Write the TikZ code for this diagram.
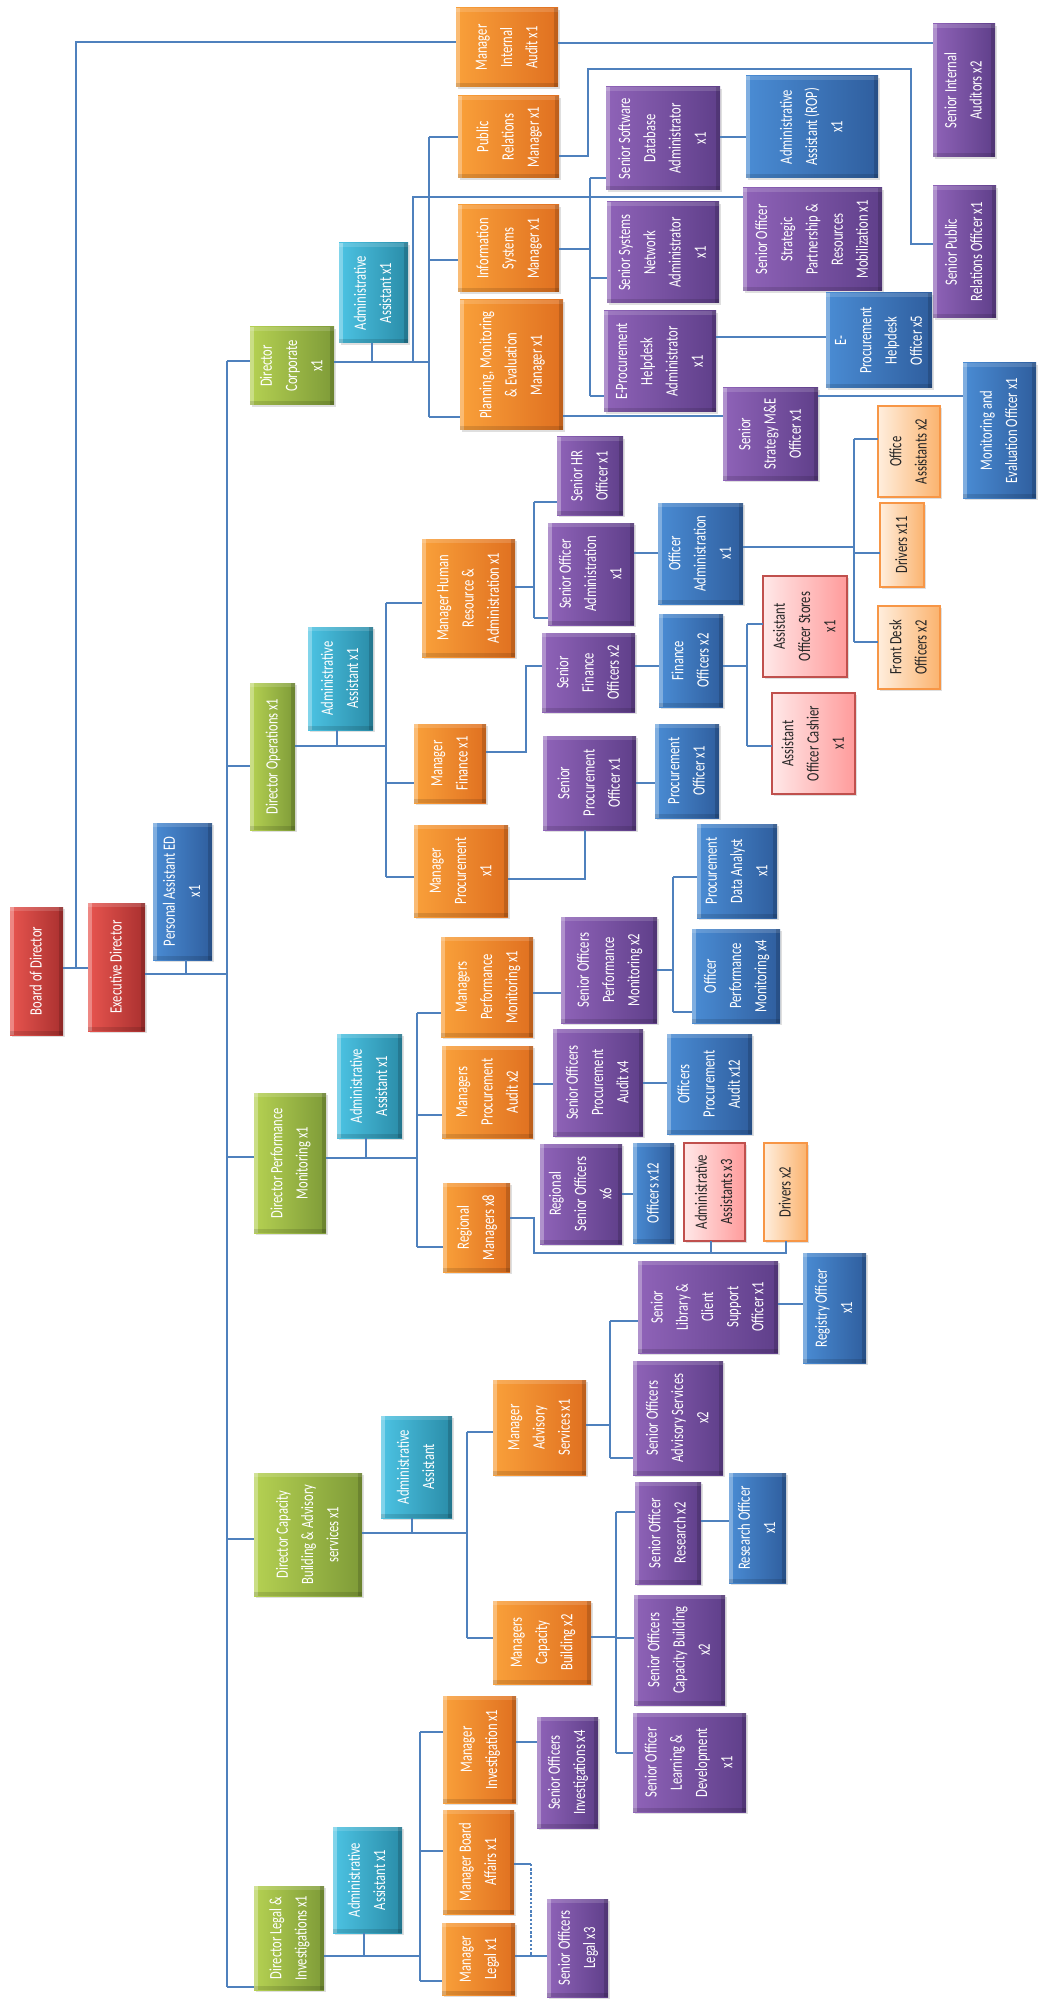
\documentclass[tikz,border=0pt]{standalone}
\usepackage{fontspec}
\setmainfont{Carlito}
\usepackage{graphicx}
\usetikzlibrary{shadows}
\definecolor{rL}{HTML}{E8554F}\definecolor{rR}{HTML}{A9302F}
\definecolor{gL}{HTML}{B5D152}\definecolor{gR}{HTML}{7E9B38}
\definecolor{cL}{HTML}{4CC3E3}\definecolor{cR}{HTML}{2A8CA8}
\definecolor{oL}{HTML}{F9A03A}\definecolor{oR}{HTML}{E07020}
\definecolor{uL}{HTML}{8F63B8}\definecolor{uR}{HTML}{5F3F8A}
\definecolor{bL}{HTML}{4A8CD4}\definecolor{bR}{HTML}{2F5E9E}
\definecolor{pL}{HTML}{FFE8E8}\definecolor{pR}{HTML}{FF9B9B}\definecolor{pB}{HTML}{C0504D}
\definecolor{lL}{HTML}{FFEEDD}\definecolor{lR}{HTML}{FBB36E}\definecolor{lB}{HTML}{F79646}
\definecolor{lnc}{HTML}{4F81BD}
\tikzset{
  basebox/.style={inner sep=0pt, outer sep=0pt, text=white,
    font=\fontsize{6.3}{9.2}\selectfont,
    drop shadow={opacity=0.25, shadow xshift=1pt, shadow yshift=-1pt}},
  bevel/.style={path picture={
    \fill[white, opacity=0.3] (path picture bounding box.north west) rectangle ([xshift=2.2pt]path picture bounding box.south west);
    \fill[white, opacity=0.15] (path picture bounding box.north west) rectangle ([yshift=-1.8pt]path picture bounding box.north east);
    \fill[black, opacity=0.15] (path picture bounding box.north east) rectangle ([xshift=-1.8pt]path picture bounding box.south east);
    \fill[black, opacity=0.12] (path picture bounding box.south west) rectangle ([yshift=1.8pt]path picture bounding box.south east);}},
  redbox/.style={basebox, bevel, left color=rL, right color=rR},
  greenbox/.style={basebox, bevel, left color=gL, right color=gR},
  cyanbox/.style={basebox, bevel, left color=cL, right color=cR},
  orangebox/.style={basebox, bevel, left color=oL, right color=oR},
  purplebox/.style={basebox, bevel, left color=uL, right color=uR},
  bluebox/.style={basebox, bevel, left color=bL, right color=bR},
  pinkbox/.style={basebox, text=black!85, left color=pL, right color=pR, draw=pB, line width=0.8pt},
  peachbox/.style={basebox, text=black!85, left color=lL, right color=lR, draw=lB, line width=0.8pt},
  ln/.style={draw=lnc, line width=0.55pt},
  thickln/.style={draw=lnc, line width=1.2pt},
}
\newcommand\orgbox[7]{\node[#1, minimum width={(#5-#3)*0.5pt}, minimum height={(#6-#4)*0.5pt}] (#2) at ({(#3+#5)/2},{(#4+#6)/2}) {\rotatebox{90}{\scalebox{1}[1.37]{\begin{tabular}{@{}c@{}}#7\end{tabular}}}};}
\begin{document}
\begin{tikzpicture}[x=0.5pt,y=-0.5pt]
\useasboundingbox[fill=white] (0,0) rectangle (1039,2000);
% ---------- boxes ----------
\orgbox{redbox}{board}{10}{907}{63}{1035}{Board of Director}
\orgbox{redbox}{exec}{88}{903}{145}{1031}{Executive Director}
\orgbox{bluebox}{pa}{153}{823}{212}{960}{Personal Assistant ED\\x1}
% corporate
\orgbox{greenbox}{dcorp}{250}{327}{334}{405}{Director\\Corporate\\x1}
\orgbox{cyanbox}{aacorp}{339}{243}{408}{343}{Administrative\\Assistant x1}
\orgbox{orangebox}{mia}{456}{8}{558}{87}{Manager\\Internal\\Audit x1}
\orgbox{orangebox}{prm}{458}{96}{559}{178}{Public\\Relations\\Manager x1}
\orgbox{orangebox}{ism}{458}{205}{559}{292}{Information\\Systems\\Manager x1}
\orgbox{orangebox}{pme}{460}{300}{563}{430}{Planning, Monitoring\\\& Evaluation\\Manager x1}
\orgbox{purplebox}{sia}{933}{24}{995}{157}{Senior Internal\\Auditors x2}
\orgbox{purplebox}{spro}{933}{186}{996}{318}{Senior Public\\Relations Officer x1}
\orgbox{purplebox}{ssda}{606}{87}{720}{190}{Senior Software\\Database\\Administrator\\x1}
\orgbox{bluebox}{aarop}{746}{76}{878}{178}{Administrative\\Assistant (ROP)\\x1}
\orgbox{purplebox}{sosp}{743}{188}{882}{291}{Senior Officer\\Strategic\\Partnership \&\\Resources\\Mobilization x1}
\orgbox{purplebox}{ssna}{607}{202}{719}{303}{Senior Systems\\Network\\Administrator\\x1}
\orgbox{purplebox}{epha}{604}{311}{716}{412}{E-Procurement\\Helpdesk\\Administrator\\x1}
\orgbox{bluebox}{epho}{826}{293}{932}{388}{E-\\Procurement\\Helpdesk\\Officer x5}
\orgbox{purplebox}{ssme}{723}{388}{818}{480}{Senior\\Strategy M\&E\\Officer x1}
\orgbox{bluebox}{meo}{963}{363}{1036}{498}{Monitoring and\\Evaluation Officer x1}
% operations
\orgbox{greenbox}{dops}{250}{683}{295}{830}{Director Operations x1}
\orgbox{cyanbox}{aaops}{308}{627}{373}{730}{Administrative\\Assistant x1}
\orgbox{orangebox}{mhr}{422}{539}{515}{657}{Manager Human\\Resource \&\\Administration x1}
\orgbox{orangebox}{mfin}{414}{724}{486}{803}{Manager\\Finance x1}
\orgbox{orangebox}{mproc}{414}{825}{508}{917}{Manager\\Procurement\\x1}
\orgbox{purplebox}{shr}{557}{437}{623}{515}{Senior HR\\Officer x1}
\orgbox{purplebox}{soadm}{548}{523}{634}{625}{Senior Officer\\Administration\\x1}
\orgbox{bluebox}{oadm}{658}{503}{743}{604}{Officer\\Administration\\x1}
\orgbox{peachbox}{offa}{878}{406}{940}{497}{Office\\Assistants x2}
\orgbox{peachbox}{drvA}{880}{503}{924}{587}{Drivers x11}
\orgbox{peachbox}{fdo}{878}{606}{940}{689}{Front Desk\\Officers x2}
\orgbox{purplebox}{sfo}{542}{633}{635}{712}{Senior\\Finance\\Officers x2}
\orgbox{bluebox}{fo}{659}{614}{723}{707}{Finance\\Officers x2}
\orgbox{pinkbox}{aos}{763}{576}{847}{677}{Assistant\\Officer Stores\\x1}
\orgbox{pinkbox}{aoc}{772}{693}{855}{794}{Assistant\\Officer Cashier\\x1}
\orgbox{purplebox}{spo}{543}{736}{636}{830}{Senior\\Procurement\\Officer x1}
\orgbox{bluebox}{po}{655}{724}{719}{818}{Procurement\\Officer x1}
% performance monitoring
\orgbox{greenbox}{dpm}{254}{1093}{326}{1233}{Director Performance\\Monitoring x1}
\orgbox{cyanbox}{aadpm}{337}{1034}{402}{1138}{Administrative\\Assistant x1}
\orgbox{orangebox}{mpm}{441}{937}{533}{1037}{Managers\\Performance\\Monitoring x1}
\orgbox{orangebox}{mpa}{442}{1046}{533}{1138}{Managers\\Procurement\\Audit x2}
\orgbox{orangebox}{rm}{443}{1183}{510}{1272}{Regional\\Managers x8}
\orgbox{purplebox}{sopm}{561}{917}{657}{1023}{Senior Officers\\Performance\\Monitoring x2}
\orgbox{bluebox}{pda}{697}{824}{777}{918}{Procurement\\Data Analyst\\x1}
\orgbox{bluebox}{opm}{692}{929}{780}{1023}{Officer\\Performance\\Monitoring x4}
\orgbox{purplebox}{sopa}{553}{1029}{643}{1136}{Senior Officers\\Procurement\\Audit x4}
\orgbox{bluebox}{opa}{667}{1034}{752}{1134}{Officers\\Procurement\\Audit x12}
\orgbox{purplebox}{rso}{540}{1144}{622}{1244}{Regional\\Senior Officers\\x6}
\orgbox{bluebox}{otw}{633}{1143}{674}{1243}{Officers x12}
\orgbox{pinkbox}{aathree}{684}{1143}{745}{1241}{Administrative\\Assistants x3}
\orgbox{peachbox}{drvB}{764}{1143}{807}{1241}{Drivers x2}
% capacity building
\orgbox{greenbox}{dcb}{254}{1473}{362}{1596}{Director Capacity\\Building \& Advisory\\services x1}
\orgbox{cyanbox}{aadcb}{381}{1416}{452}{1518}{Administrative\\Assistant}
\orgbox{orangebox}{mas}{493}{1380}{586}{1475}{Manager\\Advisory\\Services x1}
\orgbox{orangebox}{mcb}{493}{1601}{591}{1684}{Managers\\Capacity\\Building x2}
\orgbox{purplebox}{slcs}{638}{1261}{778}{1353}{Senior\\Library \&\\Client\\Support\\Officer x1}
\orgbox{bluebox}{ro}{803}{1253}{866}{1363}{Registry Officer\\x1}
\orgbox{purplebox}{soas}{633}{1361}{723}{1475}{Senior Officers\\Advisory Services\\x2}
\orgbox{purplebox}{sor}{635}{1482}{701}{1584}{Senior Officer\\Research x2}
\orgbox{bluebox}{reso}{729}{1473}{786}{1583}{Research Officer\\x1}
\orgbox{purplebox}{socb}{634}{1595}{725}{1705}{Senior Officers\\Capacity Building\\x2}
\orgbox{purplebox}{sold}{633}{1713}{746}{1812}{Senior Officer\\Learning \&\\Development\\x1}
% legal
\orgbox{greenbox}{dleg}{254}{1886}{324}{1990}{Director Legal \&\\Investigations x1}
\orgbox{cyanbox}{aaleg}{333}{1827}{402}{1933}{Administrative\\Assistant x1}
\orgbox{orangebox}{minv}{443}{1696}{516}{1803}{Manager\\Investigation x1}
\orgbox{orangebox}{mba}{443}{1810}{514}{1914}{Manager Board\\Affairs x1}
\orgbox{orangebox}{mleg}{442}{1923}{515}{1995}{Manager\\Legal x1}
\orgbox{purplebox}{soi}{537}{1717}{598}{1828}{Senior Officers\\Investigations x4}
\orgbox{purplebox}{sol}{547}{1899}{608}{1997}{Senior Officers\\Legal x3}
% ---------- connectors ----------
% top level
\coordinate (jTop) at (76,968);
\draw[ln] (board.east|-jTop) -- (exec.west|-jTop);
\draw[ln] (jTop) |- (mia.west|-0,42);
\coordinate (busT) at (227,361);
\coordinate (busB) at (227,1987);
\draw[ln] (busT) -- (busB);
\draw[ln] (exec.east|-0,974) -- (busT|-0,974);
\draw[ln] (pa.south-|186,0) -- (186,974);
\draw[ln] (busT) -- (dcorp.west|-busT);
\draw[ln] (busT|-0,766) -- (dops.west|-0,766);
\draw[ln] (busT|-0,1157) -- (dpm.west|-0,1157);
\draw[ln] (busT|-0,1539) -- (dcb.west|-0,1539);
\draw[ln] (busB) -- (dleg.west|-busB);
% corporate
\coordinate (cT) at (429,137);
\coordinate (cB) at (429,417);
\coordinate (cS) at (413,197);
\draw[ln] (dcorp.east|-0,362) -- (cB|-0,362);
\draw[ln] (aacorp.south-|372,0) -- (372,362);
\draw[ln] (cT) -- (cB);
\draw[ln] (cT) -- (prm.west|-cT);
\draw[ln] (cT|-0,260) -- (ism.west|-0,260);
\draw[ln] (cB) -- (pme.west|-cB);
\draw[ln] (cS|-0,362) -- (cS) -- (sosp.west|-cS);
\draw[ln] (mia.east|-0,43) -- (sia.west|-0,43);
\draw[ln] (prm.east|-0,156) -| (588,69) -| (911,244) -- (spro.west|-0,244);
\coordinate (iT) at (590,178);
\coordinate (iB) at (590,396);
\draw[ln] (ism.east|-0,249) -- (iT|-0,249);
\draw[ln] (iT) -- (iB);
\draw[ln] (iT) -- (ssda.west|-iT);
\draw[ln] (iT|-0,278) -- (ssna.west|-0,278);
\draw[ln] (iB) -- (epha.west|-iB);
\draw[ln] (ssda.east|-0,137) -- (aarop.west|-0,137);
\draw[ln] (epha.east|-0,337) -- (epho.west|-0,337);
\draw[ln] (pme.east|-0,416) -- (ssme.west|-0,416);
\draw[ln] (ssme.east|-0,396) -- (meo.west|-0,396);
% operations
\coordinate (oT) at (386,603);
\coordinate (oB) at (386,877);
\draw[ln] (dops.east|-0,746) -- (oT|-0,746);
\draw[ln] (aaops.south-|337,0) -- (337,746);
\draw[ln] (oT) -- (oB);
\draw[ln] (oT) -- (mhr.west|-oT);
\draw[ln] (oT|-0,783) -- (mfin.west|-0,783);
\draw[ln] (oB) -- (mproc.west|-oB);
\coordinate (hT) at (534,502);
\coordinate (hB) at (534,618);
\draw[ln] (mhr.east|-0,587) -- (hT|-0,587);
\draw[ln] (hT) -- (hB);
\draw[ln] (hT) -- (shr.west|-hT);
\draw[ln] (hB) -- (soadm.west|-hB);
\draw[ln] (soadm.east|-0,553) -- (oadm.west|-0,553);
\coordinate (aT) at (854,439);
\coordinate (aB) at (854,642);
\draw[ln] (oadm.east|-0,547) -- (aT|-0,547);
\draw[ln] (aT) -- (aB);
\draw[ln] (aT) -- (offa.west|-aT);
\draw[ln] (aT|-0,553) -- (drvA.west|-0,553);
\draw[ln] (aB) -- (fdo.west|-aB);
\draw[ln] (mfin.east|-0,752) -| (526,666) -- (sfo.west|-0,666);
\draw[ln] (sfo.east|-0,666) -- (fo.west|-0,666);
\coordinate (fT) at (747,624);
\coordinate (fB) at (747,746);
\draw[ln] (fo.east|-0,666) -- (fT|-0,666);
\draw[ln] (fT) -- (fB);
\draw[ln] (fT) -- (aos.west|-fT);
\draw[ln] (fB) -- (aoc.west|-fB);
\draw[ln] (mproc.east|-0,879) -| (spo.south-|585,0);
\draw[ln] (spo.east|-0,783) -- (po.west|-0,783);
% performance monitoring
\coordinate (pT) at (417,1013);
\coordinate (pB) at (417,1247);
\draw[ln] (dpm.east|-0,1158) -- (pT|-0,1158);
\draw[ln] (aadpm.south-|366,0) -- (366,1158);
\draw[ln] (pT) -- (pB);
\draw[ln] (pT) -- (mpm.west|-pT);
\draw[ln] (pT|-0,1115) -- (mpa.west|-0,1115);
\draw[ln] (pB) -- (rm.west|-pB);
\draw[ln] (mpm.east|-0,993) -- (sopm.west|-0,993);
\coordinate (sT) at (673,877);
\coordinate (sB) at (673,1012);
\draw[ln] (sopm.east|-0,970) -- (sT|-0,970);
\draw[ln] (sT) -- (sB);
\draw[ln] (sT) -- (pda.west|-sT);
\draw[ln] (sB) -- (opm.west|-sB);
\draw[ln] (mpa.east|-0,1084) -- (sopa.west|-0,1084);
\draw[ln] (sopa.east|-0,1083) -- (opa.west|-0,1083);
\draw[ln] (rso.east|-0,1194) -- (otw.west|-0,1194);
\coordinate (rJ) at (534,1253);
\draw[thickln] (rm.east|-0,1218) -| (rJ) -| (drvB.south-|786,0);
\draw[thickln] (rJ-|711,0) -- (aathree.south-|711,0);
% capacity building
\coordinate (kT) at (467,1432);
\coordinate (kB) at (467,1638);
\draw[ln] (dcb.east|-0,1533) -- (kT|-0,1533);
\draw[ln] (aadcb.south-|412,0) -- (412,1533);
\draw[ln] (kT) -- (kB);
\draw[ln] (kT) -- (mas.west|-kT);
\draw[ln] (kB) -- (mcb.west|-kB);
\coordinate (vT) at (610,1321);
\coordinate (vB) at (610,1458);
\draw[ln] (mas.east|-0,1425) -- (vT|-0,1425);
\draw[ln] (vT) -- (vB);
\draw[ln] (vT) -- (slcs.west|-vT);
\draw[ln] (vB) -- (soas.west|-vB);
\draw[ln] (slcs.east|-0,1304) -- (ro.west|-0,1304);
\coordinate (wT) at (616,1512);
\coordinate (wB) at (616,1753);
\draw[ln] (mcb.east|-0,1637) -- (wT|-0,1637);
\draw[ln] (wT) -- (wB);
\draw[ln] (wT) -- (sor.west|-wT);
\draw[ln] (wT|-0,1638) -- (socb.west|-0,1638);
\draw[ln] (wB) -- (sold.west|-wB);
\draw[ln] (sor.east|-0,1521) -- (reso.west|-0,1521);
% legal
\coordinate (gT) at (420,1732);
\coordinate (gB) at (420,1981);
\draw[ln] (dleg.east|-0,1956) -- (gT|-0,1956);
\draw[ln] (aaleg.south-|364,0) -- (364,1956);
\draw[ln] (gT) -- (gB);
\draw[ln] (gT) -- (minv.west|-gT);
\draw[ln] (gT|-0,1851) -- (mba.west|-0,1851);
\draw[ln] (gB) -- (mleg.west|-gB);
\draw[ln] (minv.east|-0,1742) -- (soi.west|-0,1742);
\coordinate (dJ) at (531,1864);
\draw[ln] (mba.east|-dJ) -- (dJ);
\draw[ln, dash pattern=on 1.2pt off 0.9pt] (dJ) -- (dJ|-0,1956);
\draw[ln] (mleg.east|-0,1956) -- (sol.west|-0,1956);
\end{tikzpicture}
\end{document}
